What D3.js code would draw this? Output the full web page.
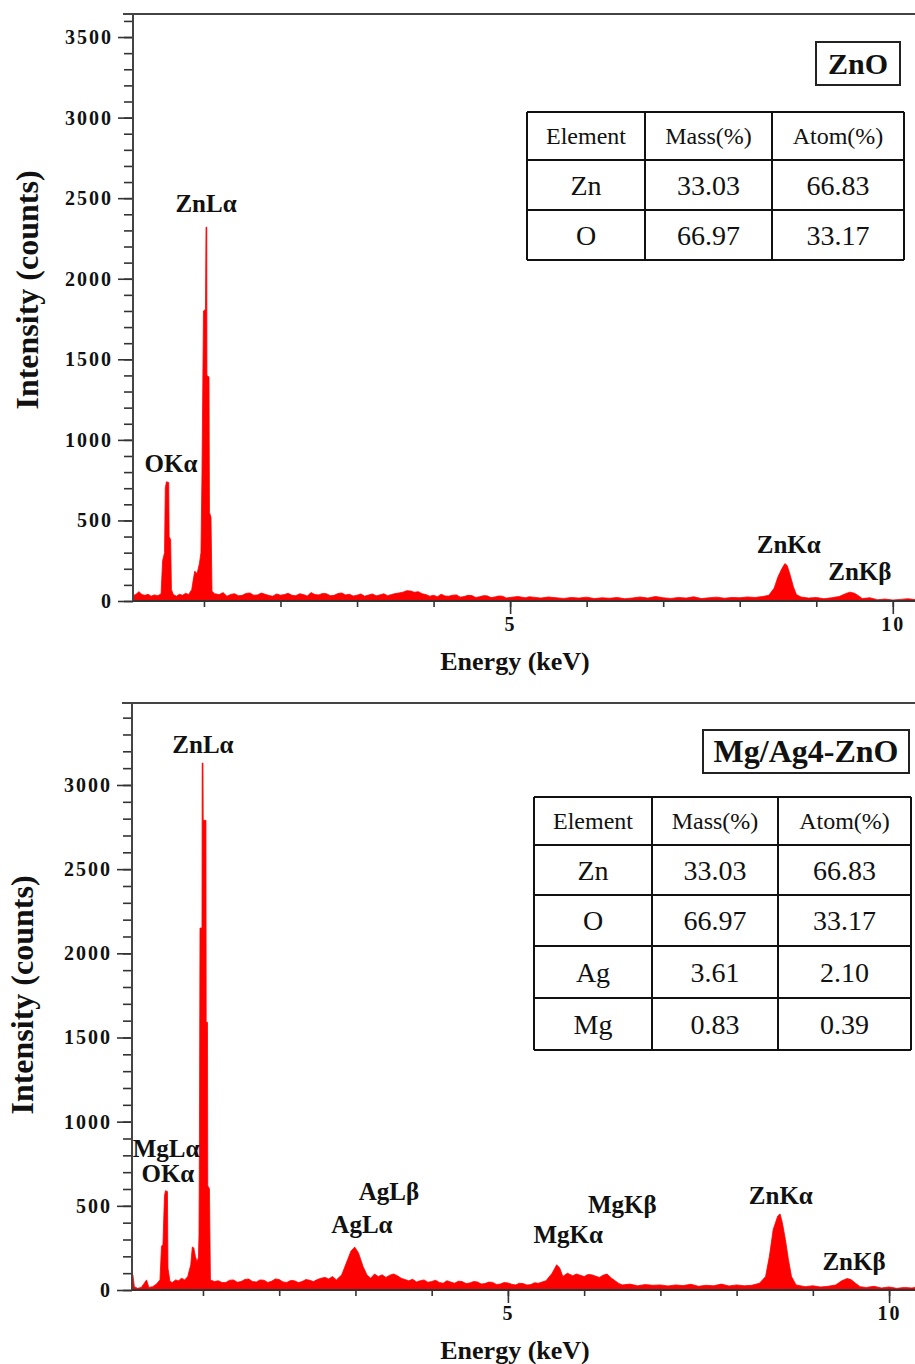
<!DOCTYPE html>
<html>
<head>
<meta charset="utf-8">
<script src="https://cdn.jsdelivr.net/npm/d3@7"></script>
<style>
  body { margin: 0; background: #fff; }
  svg text { font-family: "Liberation Serif", "Times New Roman", serif; fill: #111; }
</style>
</head>
<body>
<script>
// EDS spectra, [energy keV, counts]
const znoSpectrum = [
  [0.07, 30], [0.12, 45], [0.15, 58], [0.19, 40], [0.23, 35], [0.27, 42], [0.31, 30], [0.35, 38],
  [0.40, 33], [0.44, 45], [0.46, 250], [0.485, 300], [0.495, 700], [0.51, 740], [0.54, 735],
  [0.545, 400], [0.565, 380], [0.575, 70], [0.60, 40], [0.64, 30], [0.68, 42], [0.72, 35],
  [0.76, 48], [0.80, 40], [0.84, 70], [0.86, 130], [0.88, 185], [0.91, 170], [0.94, 230],
  [0.961, 300], [0.974, 780], [0.994, 1800], [1.020, 1810], [1.027, 2320], [1.037, 2320],
  [1.039, 1400], [1.066, 1390], [1.072, 550], [1.092, 520], [1.105, 60], [1.14, 45], [1.2, 40],
  [1.25, 52], [1.3, 30], [1.35, 41], [1.4, 45], [1.45, 33], [1.5, 35], [1.55, 47], [1.6, 50],
  [1.65, 36], [1.7, 38], [1.75, 49], [1.8, 42], [1.85, 34], [1.9, 30], [1.95, 44], [2.0, 36],
  [2.05, 40], [2.1, 48], [2.15, 35], [2.2, 33], [2.25, 45], [2.3, 40], [2.35, 31], [2.4, 52],
  [2.45, 40], [2.5, 38], [2.55, 47], [2.6, 45], [2.65, 33], [2.7, 35], [2.75, 46], [2.8, 50],
  [2.85, 38], [2.9, 42], [2.95, 31], [3.0, 36], [3.05, 44], [3.1, 30], [3.15, 37], [3.2, 44],
  [3.25, 32], [3.3, 38], [3.35, 45], [3.4, 33], [3.45, 40], [3.5, 46], [3.55, 50], [3.6, 55],
  [3.65, 64], [3.7, 62], [3.75, 54], [3.8, 58], [3.85, 45], [3.9, 40], [3.95, 30], [4.0, 35],
  [4.05, 27], [4.1, 42], [4.15, 31], [4.2, 30], [4.25, 36], [4.3, 38], [4.35, 24], [4.4, 28],
  [4.45, 35], [4.5, 34], [4.55, 22], [4.6, 26], [4.65, 33], [4.7, 32], [4.75, 21], [4.8, 25],
  [4.85, 31], [4.9, 30], [4.95, 19], [5.0, 22], [5.1, 28], [5.2, 20], [5.25, 26], [5.3, 24],
  [5.4, 18], [5.5, 25], [5.6, 20], [5.7, 16], [5.8, 22], [5.9, 18], [6.0, 24], [6.1, 15],
  [6.2, 20], [6.3, 17], [6.4, 22], [6.5, 14], [6.6, 19], [6.7, 25], [6.8, 18], [6.9, 28],
  [7.0, 20], [7.1, 16], [7.2, 22], [7.3, 18], [7.4, 26], [7.5, 15], [7.6, 20], [7.7, 24],
  [7.8, 17], [7.9, 22], [8.0, 20], [8.1, 25], [8.2, 22], [8.3, 28], [8.38, 35], [8.45, 80],
  [8.5, 150], [8.55, 200], [8.59, 232], [8.62, 220], [8.66, 160], [8.7, 90], [8.74, 40],
  [8.8, 25], [8.9, 18], [9.0, 22], [9.1, 14], [9.2, 20], [9.3, 28], [9.38, 45], [9.44, 55],
  [9.5, 48], [9.56, 30], [9.6, 15], [9.7, 20], [9.8, 8], [9.9, 12], [10.0, 6], [10.1, 10],
  [10.2, 14], [10.3, 8]
];

const mgAgSpectrum = [
  [0.07, 60], [0.08, 90], [0.10, 20], [0.14, 10], [0.19, 15], [0.23, 40], [0.26, 60], [0.29, 15],
  [0.34, 20], [0.39, 35], [0.436, 60], [0.456, 260], [0.475, 270], [0.495, 560], [0.508, 590],
  [0.534, 585], [0.541, 130], [0.567, 50], [0.60, 45], [0.64, 60], [0.68, 55], [0.72, 70],
  [0.76, 60], [0.80, 80], [0.84, 150], [0.86, 255], [0.88, 250], [0.90, 200], [0.92, 170],
  [0.94, 190], [0.948, 330], [0.954, 900], [0.961, 2150], [0.987, 2150], [0.99, 3130],
  [1.0, 3130], [1.003, 2790], [1.039, 2790], [1.042, 1590], [1.059, 1590], [1.063, 620],
  [1.085, 600], [1.098, 60], [1.15, 50], [1.2, 55], [1.25, 44], [1.3, 45], [1.35, 58], [1.4, 60],
  [1.45, 46], [1.5, 50], [1.55, 63], [1.6, 65], [1.65, 50], [1.7, 48], [1.75, 60], [1.8, 58],
  [1.85, 45], [1.9, 52], [1.95, 66], [2.0, 62], [2.05, 48], [2.1, 45], [2.15, 57], [2.2, 55],
  [2.25, 44], [2.3, 50], [2.35, 62], [2.4, 58], [2.45, 50], [2.5, 62], [2.55, 70], [2.6, 75],
  [2.65, 66], [2.7, 80], [2.75, 60], [2.82, 90], [2.88, 160], [2.94, 230], [2.99, 255],
  [3.04, 220], [3.1, 140], [3.15, 90], [3.2, 70], [3.25, 95], [3.3, 80], [3.35, 90], [3.4, 75],
  [3.45, 88], [3.5, 95], [3.55, 85], [3.6, 70], [3.65, 62], [3.7, 55], [3.75, 64], [3.8, 48],
  [3.85, 55], [3.9, 60], [3.95, 46], [4.0, 50], [4.05, 58], [4.1, 45], [4.15, 40], [4.2, 55],
  [4.25, 47], [4.3, 40], [4.35, 52], [4.4, 50], [4.45, 38], [4.5, 42], [4.55, 50], [4.6, 48],
  [4.65, 36], [4.7, 38], [4.75, 47], [4.8, 45], [4.85, 33], [4.9, 35], [4.95, 44], [5.0, 42],
  [5.05, 34], [5.1, 30], [5.15, 40], [5.2, 38], [5.25, 29], [5.3, 32], [5.35, 43], [5.4, 40],
  [5.5, 55], [5.58, 100], [5.64, 150], [5.68, 130], [5.72, 80], [5.78, 100], [5.85, 85],
  [5.9, 95], [6.0, 80], [6.05, 92], [6.1, 90], [6.2, 75], [6.25, 88], [6.3, 95], [6.36, 70],
  [6.45, 40], [6.5, 30], [6.6, 35], [6.7, 25], [6.8, 32], [6.9, 28], [7.0, 30], [7.1, 24],
  [7.2, 30], [7.3, 26], [7.4, 34], [7.5, 22], [7.6, 28], [7.7, 25], [7.8, 35], [7.9, 24],
  [8.0, 30], [8.1, 25], [8.2, 28], [8.3, 40], [8.38, 80], [8.43, 200], [8.48, 360], [8.54, 440],
  [8.57, 452], [8.6, 400], [8.64, 300], [8.68, 180], [8.72, 80], [8.78, 30], [8.9, 20], [9.0, 25],
  [9.1, 18], [9.2, 22], [9.3, 30], [9.38, 55], [9.45, 68], [9.5, 62], [9.56, 40], [9.62, 20],
  [9.7, 15], [9.8, 22], [9.9, 12], [10.0, 18], [10.1, 10], [10.2, 15], [10.3, 12], [10.4, 20]
];

// peak labels: [text, energy, counts]
const znoPeaks = [
  ['ZnLα', 1.027, 2414], ['OKα', 0.57, 800], ['ZnKα', 8.64, 298], ['ZnKβ', 9.57, 130]
];
const mgAgPeaks = [
  ['ZnLα', 1.0, 3190], ['MgLα', 0.515, 790], ['OKα', 0.54, 642],
  ['AgLβ', 3.44, 535], ['AgLα', 3.085, 339], ['MgKβ', 6.5, 457],
  ['MgKα', 5.79, 279], ['ZnKα', 8.58, 511], ['ZnKβ', 9.54, 119]
];

const tableHeader = ['Element', 'Mass(%)', 'Atom(%)'];
const znoTable = [['Zn', '33.03', '66.83'], ['O', '66.97', '33.17']];
const mgAgTable = [['Zn', '33.03', '66.83'], ['O', '66.97', '33.17'], ['Ag', '3.61', '2.10'], ['Mg', '0.83', '0.39']];

const xMajor = [5, 10];
const xMinor = [1, 2, 3, 4, 5, 6, 7, 8, 9, 10];
const znoYMajor = [0, 500, 1000, 1500, 2000, 2500, 3000, 3500];
const mgAgYMajor = [0, 500, 1000, 1500, 2000, 2500, 3000];

const W = 915, H = 1364;
const svg = d3.select('body').append('svg').attr('width', W).attr('height', H);

function drawPanel(p) {
  const g = svg.append('g');
  const x = d3.scaleLinear().domain(p.xDomain).range([p.left, W]);
  const y = d3.scaleLinear().domain(p.yDomain).range([p.bottom, p.top]);

  svg.append('clipPath').attr('id', 'clip' + p.id)
    .append('rect')
    .attr('x', p.left).attr('y', p.top)
    .attr('width', W - p.left).attr('height', p.bottom - p.top);

  const area = d3.area()
    .x(d => x(d[0]))
    .y0(y(0))
    .y1(d => y(d[1]));

  g.append('path')
    .datum(p.spectrum)
    .attr('clip-path', `url(#clip${p.id})`)
    .attr('d', area)
    .attr('fill', '#ff0000')
    .attr('stroke', '#ff0000')
    .attr('stroke-width', 0.8);

  // y axis ticks
  const yMinor = d3.range(0, p.yDomain[1], 100);
  const yMinorG = g.append('g').attr('transform', `translate(${p.left},0)`)
    .call(d3.axisLeft(y).tickValues(yMinor).tickSize(9).tickFormat(''));
  const yMajorG = g.append('g').attr('transform', `translate(${p.left},0)`)
    .call(d3.axisLeft(y).tickValues(p.yMajor).tickSize(15).tickPadding(5).tickFormat(d3.format('d')));

  // x axis ticks
  const xMinorG = g.append('g').attr('transform', `translate(0,${p.bottom})`)
    .call(d3.axisBottom(x).tickValues(xMinor).tickSize(6).tickFormat(''));
  const xMajorG = g.append('g').attr('transform', `translate(0,${p.bottom})`)
    .call(d3.axisBottom(x).tickValues(xMajor).tickSize(13).tickPadding(3).tickFormat(d3.format('d')));

  [yMinorG, yMajorG, xMinorG, xMajorG].forEach(a => {
    a.select('.domain').remove();
    a.selectAll('line').attr('stroke', '#333').attr('stroke-width', 1.6);
    a.selectAll('text')
      .style('font-family', '"Liberation Serif", "Times New Roman", serif')
      .style('font-weight', 'bold')
      .style('font-size', '20px')
      .style('letter-spacing', '2px')
      .attr('fill', '#111');
  });

  // frame lines
  g.append('line').attr('x1', p.left - 10).attr('x2', W).attr('y1', p.top).attr('y2', p.top)
    .attr('stroke', '#444').attr('stroke-width', 2);
  g.append('line').attr('x1', p.left).attr('x2', p.left).attr('y1', p.top).attr('y2', p.bottom)
    .attr('stroke', '#444').attr('stroke-width', 2);
  g.append('line').attr('x1', p.left).attr('x2', W).attr('y1', p.bottom).attr('y2', p.bottom)
    .attr('stroke', '#333').attr('stroke-width', 2);

  // axis titles
  g.append('text')
    .attr('x', 515).attr('y', p.bottom + 69)
    .attr('text-anchor', 'middle')
    .style('font-weight', 'bold').style('font-size', '26px')
    .text('Energy (keV)');
  g.append('text')
    .attr('transform', `translate(${p.yTitleX},${p.yTitleY}) rotate(-90)`)
    .attr('text-anchor', 'middle')
    .style('font-weight', 'bold').style('font-size', '32px')
    .text('Intensity (counts)');

  // peak labels
  g.selectAll('.peak')
    .data(p.peaks)
    .join('text')
    .attr('class', 'peak')
    .attr('x', d => x(d[1]))
    .attr('y', d => y(d[2]))
    .attr('text-anchor', 'middle')
    .style('font-weight', 'bold').style('font-size', '25px')
    .text(d => d[0]);

  // sample name box
  const b = p.box;
  g.append('rect').attr('x', b.x).attr('y', b.y).attr('width', b.w).attr('height', b.h)
    .attr('fill', '#fff').attr('stroke', '#222').attr('stroke-width', 2);
  g.append('text')
    .attr('x', b.x + b.w / 2).attr('y', b.y + b.h / 2 + b.fs * 0.34)
    .attr('text-anchor', 'middle')
    .style('font-weight', 'bold').style('font-size', b.fs + 'px')
    .text(p.name);

  // composition table
  const t = p.table;
  const rows = [tableHeader].concat(p.rows);
  const tg = g.append('g');
  tg.append('rect').attr('x', t.cols[0]).attr('y', t.rowsY[0])
    .attr('width', t.cols[3] - t.cols[0]).attr('height', t.rowsY[t.rowsY.length - 1] - t.rowsY[0])
    .attr('fill', '#fff');
  t.rowsY.forEach(yy => {
    tg.append('line').attr('x1', t.cols[0]).attr('x2', t.cols[3]).attr('y1', yy).attr('y2', yy)
      .attr('stroke', '#111').attr('stroke-width', 2);
  });
  t.cols.forEach(xx => {
    tg.append('line').attr('x1', xx).attr('x2', xx).attr('y1', t.rowsY[0]).attr('y2', t.rowsY[t.rowsY.length - 1])
      .attr('stroke', '#111').attr('stroke-width', 2);
  });
  rows.forEach((r, i) => {
    const cy = (t.rowsY[i] + t.rowsY[i + 1]) / 2;
    const fs = i === 0 ? 24 : 28;
    r.forEach((cell, j) => {
      tg.append('text')
        .attr('x', (t.cols[j] + t.cols[j + 1]) / 2)
        .attr('y', cy + fs * 0.34)
        .attr('text-anchor', 'middle')
        .style('font-size', fs + 'px')
        .text(cell);
    });
  });
}

drawPanel({
  id: 'zno', name: 'ZnO', spectrum: znoSpectrum, peaks: znoPeaks, rows: znoTable,
  left: 133, top: 14, bottom: 601,
  xDomain: [0.073, 10.29], yDomain: [0, 3643], yMajor: znoYMajor,
  yTitleX: 38, yTitleY: 290,
  box: { x: 816, y: 42, w: 84, h: 43, fs: 30 },
  table: { cols: [527, 645, 772, 904], rowsY: [112, 160, 210, 260] }
});

drawPanel({
  id: 'mgag', name: 'Mg/Ag4-ZnO', spectrum: mgAgSpectrum, peaks: mgAgPeaks, rows: mgAgTable,
  left: 132, top: 703, bottom: 1290,
  xDomain: [0.069, 10.34], yDomain: [0, 3487], yMajor: mgAgYMajor,
  yTitleX: 33, yTitleY: 995,
  box: { x: 703, y: 730, w: 206, h: 43, fs: 32 },
  table: { cols: [534, 652, 778, 911], rowsY: [797, 845, 895, 946, 998, 1050] }
});
</script>
</body>
</html>
